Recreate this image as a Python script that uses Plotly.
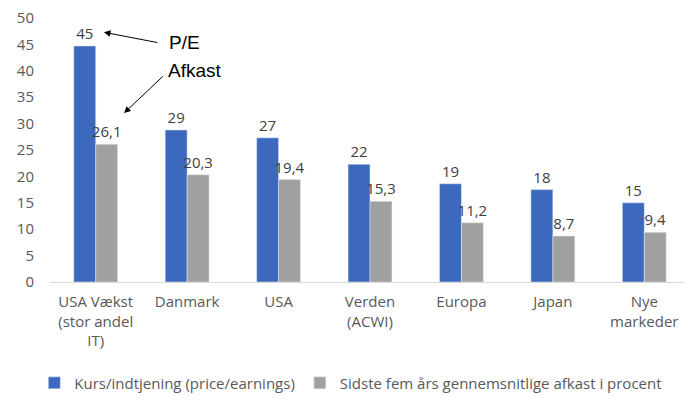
import plotly.graph_objects as go

categories = ["USA Vækst<br>(stor andel<br>IT)", "Danmark", "USA", "Verden<br>(ACWI)", "Europa", "Japan", "Nye<br>markeder"]
pe_values = [44.7, 28.8, 27.3, 22.3, 18.6, 17.5, 15.0]
pe_labels = ["45", "29", "27", "22", "19", "18", "15"]
return_values = [26.1, 20.3, 19.4, 15.3, 11.2, 8.7, 9.4]
return_labels = ["26,1", "20,3", "19,4", "15,3", "11,2", "8,7", "9,4"]

FONT = "Open Sans, Liberation Sans, sans-serif"

fig = go.Figure()
fig.add_trace(go.Bar(
    x=categories, y=pe_values, name="Kurs/indtjening (price/earnings)",
    marker_color="#3C68BD", text=pe_labels, textposition="outside", constraintext="none",
    textfont=dict(size=15, color="#404040", family=FONT), cliponaxis=False,
))
fig.add_trace(go.Bar(
    x=categories, y=return_values, name="Sidste fem års gennemsnitlige afkast i procent",
    marker_color="#A0A0A0", text=return_labels, textposition="outside", constraintext="none",
    textfont=dict(size=15, color="#404040", family=FONT), cliponaxis=False,
))

fig.update_layout(
    width=685, height=399,
    margin=dict(l=42, r=3, t=10, b=125, autoexpand=False),
    paper_bgcolor="white", plot_bgcolor="white",
    barmode="group", bargap=0.52, bargroupgap=0,
    font=dict(family=FONT, size=15, color="#595959"),
    showlegend=True,
    legend=dict(orientation="h", x=0.47, xanchor="center", y=-0.383, yanchor="middle",
                font=dict(size=15, color="#595959"), itemwidth=30, traceorder="normal"),
    xaxis=dict(showline=True, linecolor="#D9D9D9", linewidth=1, ticks="", automargin=False,
               ticklabelstandoff=6,
               tickfont=dict(size=15, color="#595959")),
    yaxis=dict(range=[0, 50], dtick=5, showgrid=False, zeroline=False, showline=False, automargin=False,
               ticklabeloverflow="allow",
               tickfont=dict(size=15, color="#595959"), ticklen=12, tickcolor="white", ticks="outside"),
)

# Arrows
fig.add_annotation(x=0.09, y=47.3, xref="x", yref="y", ax=0.69, ay=45.3, axref="x", ayref="y",
                   text="", showarrow=True, arrowhead=2, arrowsize=1.3, arrowwidth=1, arrowcolor="black")
fig.add_annotation(x=0.31, y=32.0, xref="x", yref="y", ax=0.75, ay=39.2, axref="x", ayref="y",
                   text="", showarrow=True, arrowhead=2, arrowsize=1.3, arrowwidth=1, arrowcolor="black")
fig.add_annotation(x=0.97, y=45.3, xref="x", yref="y", text="P/E", showarrow=False,
                   font=dict(size=19, color="black", family="Liberation Sans, sans-serif"))
fig.add_annotation(x=1.09, y=40.0, xref="x", yref="y", text="Afkast", showarrow=False,
                   font=dict(size=19, color="black", family="Liberation Sans, sans-serif"))

fig.write_html("out.html")
